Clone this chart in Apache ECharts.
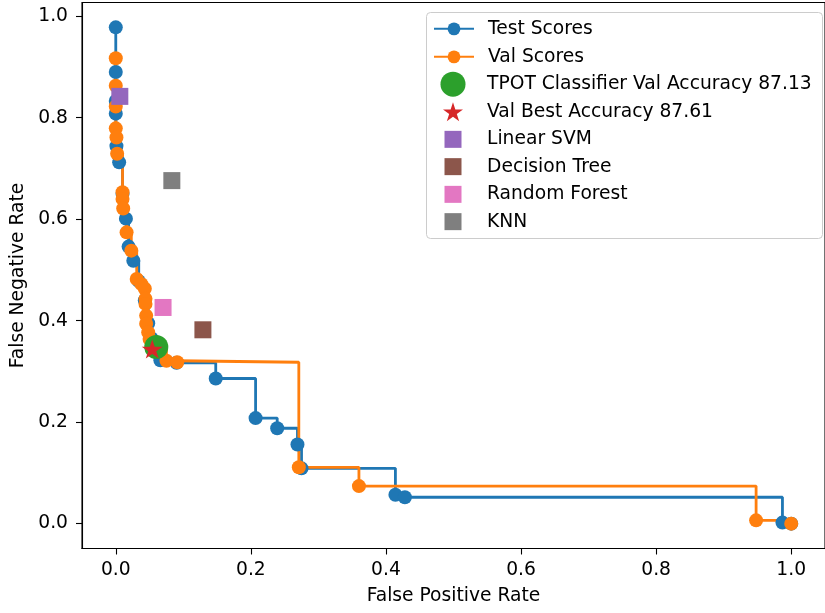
<!DOCTYPE html>
<html>
<head>
<meta charset="utf-8">
<script src="https://cdn.jsdelivr.net/npm/echarts@6/dist/echarts.min.js"></script>
<style>
html, body { margin: 0; padding: 0; background: #fff; }
#chart { width: 825px; height: 613px; }
</style>
</head>
<body>
<div id="chart"></div>
<script>
// Test-set error-rate curve (false positive rate, false negative rate)
const testFPR = [0, 0, 0, 0, 0.001, 0.005, 0.010, 0.015, 0.019, 0.026, 0.034, 0.043, 0.048, 0.053, 0.058, 0.066, 0.090, 0.148, 0.207, 0.239, 0.269, 0.275, 0.414, 0.428, 0.987, 1.0];
const testFNR = [0.978, 0.890, 0.833, 0.808, 0.744, 0.712, 0.650, 0.601, 0.546, 0.518, 0.478, 0.440, 0.395, 0.365, 0.340, 0.322, 0.317, 0.286, 0.208, 0.188, 0.156, 0.109, 0.057, 0.052, 0.002, 0.0];

// Validation-set error-rate curve
const valFPR = [0, 0, 0, 0, 0.001, 0.002, 0.010, 0.010, 0.011, 0.016, 0.023, 0.031, 0.038, 0.043, 0.044, 0.044, 0.045, 0.045, 0.048, 0.050, 0.054, 0.075, 0.091, 0.271, 0.360, 0.948, 1.0];
const valFNR = [0.917, 0.863, 0.822, 0.779, 0.761, 0.729, 0.653, 0.640, 0.621, 0.574, 0.538, 0.482, 0.472, 0.463, 0.443, 0.433, 0.410, 0.394, 0.377, 0.364, 0.344, 0.321, 0.318, 0.111, 0.074, 0.0065, 0.0];

// Single operating points
const tpotLabel = 'TPOT Classifier Val Accuracy 87.13';
const tpotPoint = [0.060, 0.348];
const bestLabel = 'Val Best Accuracy 87.61';
const bestPoint = [0.054, 0.344];

// Baseline classifiers
const baselineNames = ['Linear SVM', 'Decision Tree', 'Random Forest', 'KNN'];
const baselineFPR = [0.006, 0.129, 0.070, 0.083];
const baselineFNR = [0.842, 0.382, 0.426, 0.676];
const baselineColors = ['#9467bd', '#8c564b', '#e377c2', '#7f7f7f'];

// Tick positions on both axes
const tickValues = [0, 0.2, 0.4, 0.6, 0.8, 1.0];

const FONT = 'DejaVu Sans';
const FONT_SIZE = 18.7;
const STAR = 'path://M100,0 L122.45,69.1 L195.11,69.1 L136.33,111.8 L158.78,180.9 L100,138.2 L41.22,180.9 L63.67,111.8 L4.89,69.1 L77.55,69.1 Z';

const zip = (xs, ys) => xs.map((x, i) => [x, ys[i]]);

const series = [
  {
    name: 'Test Scores', type: 'line', step: 'end',
    data: zip(testFPR, testFNR),
    symbol: 'circle', symbolSize: 14, showAllSymbol: true,
    lineStyle: { color: '#1f77b4', width: 2.8 },
    itemStyle: { color: '#1f77b4' },
    z: 2
  },
  {
    name: 'Val Scores', type: 'line', step: 'end',
    data: zip(valFPR, valFNR),
    symbol: 'circle', symbolSize: 14, showAllSymbol: true,
    lineStyle: { color: '#ff7f0e', width: 2.8 },
    itemStyle: { color: '#ff7f0e' },
    z: 2
  },
  {
    name: tpotLabel, type: 'scatter',
    data: [tpotPoint], symbol: 'circle', symbolSize: 24,
    itemStyle: { color: '#2ca02c', opacity: 1 },
    z: 2
  },
  {
    name: bestLabel, type: 'scatter',
    data: [bestPoint], symbol: STAR, symbolSize: [21, 20], symbolKeepAspect: true,
    itemStyle: { color: '#d62728', opacity: 1 },
    z: 2
  }
];
baselineNames.forEach((n, i) => {
  series.push({
    name: n, type: 'scatter',
    data: [[baselineFPR[i], baselineFNR[i]]],
    symbol: 'rect', symbolSize: 17, symbolKeepAspect: true,
    itemStyle: { color: baselineColors[i], opacity: 1 },
    z: 2
  });
});

// One legend block per row so each handle keeps its own marker size;
// every handle is centred on x = 453 and every label starts at x = 487.
const HANDLE_CX = 453, TEXT_X = 487;
const legendRows = [
  { name: 'Test Scores', cy: 28.7, w: 40, h: 16 },
  { name: 'Val Scores', cy: 56.7, w: 40, h: 16 },
  { name: tpotLabel, cy: 84.2, w: 25, h: 25 },
  { name: bestLabel, cy: 111.7, w: 20, h: 19 },
  { name: 'Linear SVM', cy: 139.2, w: 17, h: 17 },
  { name: 'Decision Tree', cy: 166.5, w: 17, h: 17 },
  { name: 'Random Forest', cy: 194.2, w: 17, h: 17 },
  { name: 'KNN', cy: 221.5, w: 17, h: 17 }
];
const legends = legendRows.map(r => {
  const left = HANDLE_CX - r.w / 2;
  const pad = TEXT_X - (left + r.w + 5);
  return {
    data: [{ name: r.name }],
    orient: 'vertical',
    left: left,
    top: r.cy - Math.max(r.h, FONT_SIZE) / 2,
    padding: 0,
    itemWidth: r.w,
    itemHeight: r.h,
    symbolKeepAspect: true,
    selectedMode: false,
    textStyle: { fontFamily: FONT, fontSize: FONT_SIZE, color: '#000', padding: [0, 0, 0, pad] },
    z: 6
  };
});

const axisCommon = {
  type: 'value',
  nameLocation: 'middle',
  nameTextStyle: { fontFamily: FONT, fontSize: FONT_SIZE, color: '#000' },
  axisLine: { show: true, onZero: false, lineStyle: { color: '#000', width: 1.1 } },
  axisTick: { show: true, inside: false, length: 6, customValues: tickValues, lineStyle: { color: '#000', width: 1.1 } },
  axisLabel: { customValues: tickValues, fontFamily: FONT, fontSize: FONT_SIZE, color: '#000', formatter: v => v.toFixed(1) },
  splitLine: { show: false }
};

const chart = echarts.init(document.getElementById('chart'), null, { renderer: 'canvas' });
chart.setOption({
  animation: false,
  backgroundColor: '#fff',
  grid: { left: 82, top: 2.5, width: 750, height: 546, show: true, borderColor: '#000', borderWidth: 1.1, containLabel: false },
  xAxis: Object.assign({}, axisCommon, {
    min: -0.05, max: 1.05, name: 'False Positive Rate', nameGap: 38,
    axisLabel: Object.assign({}, axisCommon.axisLabel, { margin: 12 })
  }),
  yAxis: Object.assign({}, axisCommon, {
    min: -0.049, max: 1.027, name: 'False Negative Rate', nameGap: 50,
    axisLabel: Object.assign({}, axisCommon.axisLabel, { margin: 14 })
  }),
  legend: legends,
  graphic: [{
    type: 'rect', z: 5,
    shape: { x: 426.5, y: 12.5, width: 396, height: 226, r: 4 },
    style: { fill: 'rgba(255,255,255,0.8)', stroke: '#cccccc', lineWidth: 1 }
  }],
  series: series
});
</script>
</body>
</html>
